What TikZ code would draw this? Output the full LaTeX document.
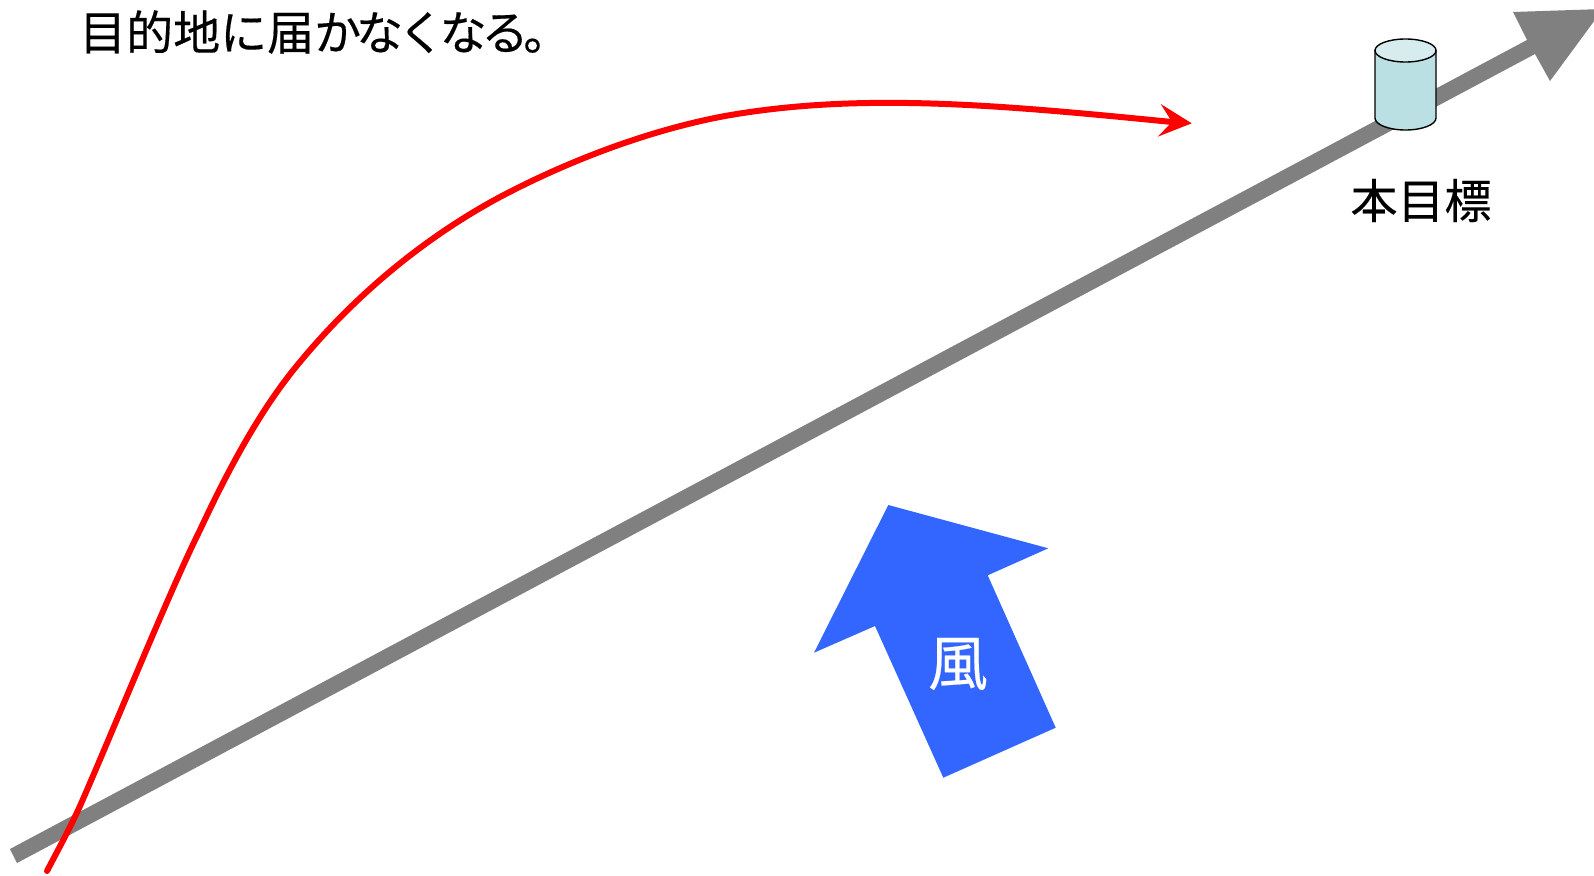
\documentclass[tikz,border=0pt]{standalone}
\usepackage{fontspec}
\newfontfamily\jpfont{Noto Sans CJK JP}[FakeBold=0.35]
\definecolor{roadgray}{HTML}{808080}
\definecolor{windblue}{HTML}{3366FF}
\definecolor{cylbody}{HTML}{BBE0E3}
\definecolor{cyltop}{HTML}{D6ECEE}
\tikzset{
  txt/.style={inner sep=0pt,font=\jpfont\fontsize{47}{47}\selectfont,text=black},
  windtxt/.style={inner sep=0pt,font=\jpfont\fontsize{60}{60}\selectfont,text=white},
  cyl/.style={draw=black,line width=1.4pt,line join=round},
  course/.style={draw=red,line width=6pt,line cap=round,line join=round},
}
\begin{document}
\begin{tikzpicture}[x=1pt,y=-1pt]
\useasboundingbox (0,0) rectangle (1594,875);
\clip (0,0) rectangle (1594,875);
% planned course (grey arrow)
\fill[roadgray] (10,849) -- (1527,40) -- (1513,12) -- (1603,9) -- (1550,81) -- (1535,54) -- (17,863) -- cycle;
% cylinder
\path[cyl,fill=cylbody] (1375,50) -- (1375,118) arc[start angle=180,end angle=360,x radius=30.5,y radius=-12] -- (1436,50) -- cycle;
\path[cyl,fill=cyltop] (1405.5,50.5) ellipse[x radius=30.5,y radius=11.5];
\node[txt] (goal) at (1421,200.5) {本目標};
\node[txt,anchor=west] (msg) at (79,32) {目的地に届{\addfontfeature{LetterSpace=-11}かなくなる。}};
% wind arrow
\fill[windblue] (888.3,505) -- (1048.3,548.3) -- (987.7,575.3) -- (1055.7,727.7) -- (943.3,777.7) -- (875,626) -- (814,652.7) -- cycle;
\node[windtxt] (wind) at (958,664) {風};
% actual course
\coordinate (s) at (47,871);
\coordinate (e) at (1172,122);
\coordinate (tip) at (1191.7,123.3);
\coordinate (b1) at (1160.7,104);
\coordinate (b2) at (1157.7,136.7);
\draw[course]
  (s) .. controls (58,850) and (70,828) .. (80,806)
  .. controls (110,738) and (170,590) .. (200,530)
  .. controls (235,455) and (265,405) .. (295,368)
  .. controls (350,300) and (420,240) .. (500,197)
  .. controls (570,160) and (650,130) .. (725,116)
  .. controls (860,92) and (1000,105) .. (e);
\fill[red] (tip) -- (b1) -- (e) -- (b2) -- cycle;
\end{tikzpicture}
\end{document}
